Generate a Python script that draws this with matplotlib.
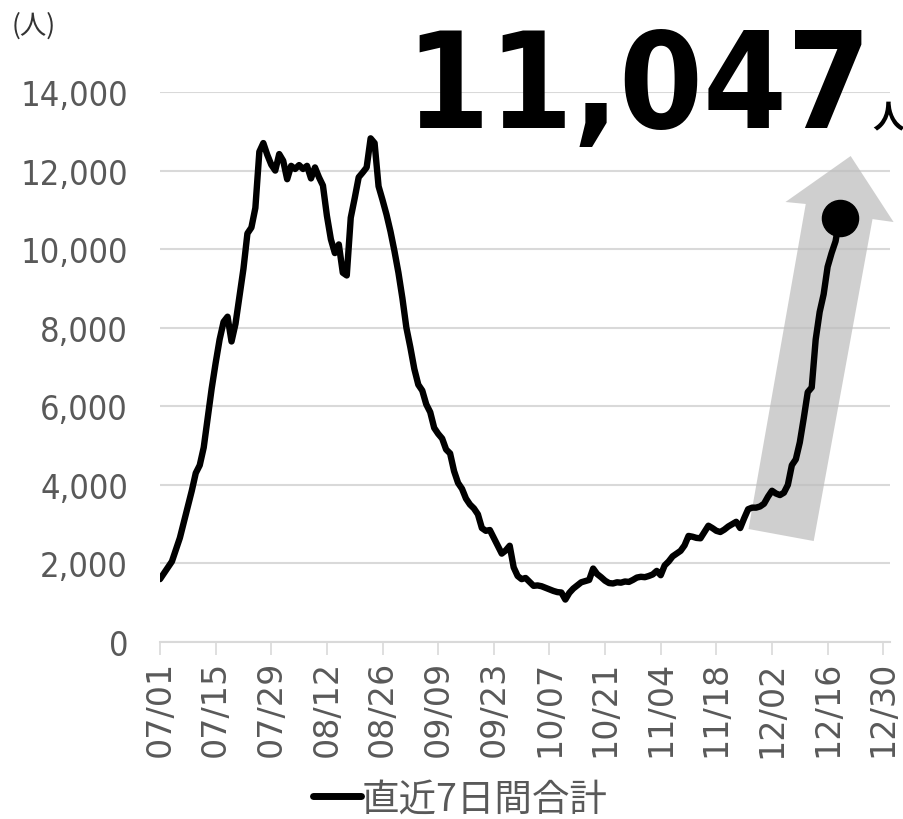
import matplotlib
matplotlib.use("Agg")
import matplotlib.pyplot as plt
from matplotlib import font_manager as fm
from matplotlib.patches import Polygon
from matplotlib.textpath import TextPath

# 直近7日間合計 (daily, from 07/01)
totals = [
    1600, 1750, 1900, 2050, 2350, 2650, 3050, 3450, 3850, 4300,
    4500, 4950, 5700, 6450, 7100, 7700, 8150, 8280, 7650, 8100,
    8800, 9500, 10400, 10550, 11050, 12480, 12700, 12400, 12150, 12000,
    12420, 12250, 11780, 12120, 12040, 12140, 12040, 12120, 11800, 12080,
    11830, 11620, 10850, 10250, 9900, 10120, 9400, 9330, 10800, 11300,
    11830, 11950, 12080, 12820, 12700, 11600, 11250, 10880, 10450, 9950,
    9400, 8750, 8000, 7500, 6950, 6550, 6400, 6050, 5850, 5450,
    5300, 5180, 4900, 4800, 4350, 4050, 3900, 3650, 3500, 3400,
    3250, 2900, 2830, 2850, 2650, 2450, 2250, 2330, 2450, 1900,
    1680, 1600, 1630, 1530, 1430, 1440, 1420, 1380, 1340, 1300,
    1270, 1260, 1080, 1250, 1360, 1440, 1520, 1550, 1580, 1870,
    1730, 1650, 1560, 1500, 1490, 1520, 1510, 1540, 1530, 1580,
    1640, 1660, 1650, 1680, 1720, 1810, 1700, 1950, 2050, 2180,
    2250, 2320, 2460, 2700, 2680, 2650, 2640, 2800, 2960, 2900,
    2830, 2800, 2860, 2940, 3000, 3060, 2900, 3150, 3380, 3420,
    3420, 3450, 3520, 3700, 3850, 3780, 3740, 3800, 4000, 4500,
    4650, 5080, 5700, 6360, 6480, 7700, 8400, 8850, 9550, 9900,
    10200, 10780,
]
days = list(range(len(totals)))
tick_days = [0, 14, 28, 42, 56, 70, 84, 98, 112, 126, 140, 154, 168, 182]
tick_labels = ["07/01", "07/15", "07/29", "08/12", "08/26", "09/09", "09/23",
               "10/07", "10/21", "11/04", "11/18", "12/02", "12/16", "12/30"]
y_ticks = [0, 2000, 4000, 6000, 8000, 10000, 12000, 14000]
headline = "11,047"

STRETCH_RANK = {"ultra-condensed": 0, "extra-condensed": 1, "condensed": 2, "semi-condensed": 3}


def condensed_font(bold):
    # narrowest installed sans face, else plain DejaVu Sans
    found = []
    for f in fm.fontManager.ttflist:
        if f.stretch not in STRETCH_RANK:
            continue
        if "Mono" in f.name or "Serif" in f.name or f.style != "normal":
            continue
        w = f.weight if isinstance(f.weight, int) else fm.weight_dict.get(f.weight, 400)
        found.append((STRETCH_RANK[f.stretch], abs(w - (700 if bold else 400)), f.fname))
    if found:
        found.sort()
        return fm.FontProperties(fname=found[0][2])
    return fm.FontProperties(family="DejaVu Sans", weight="bold" if bold else "normal")


def fit_size(fp, text, width_px, digit_px, renderer, fig):
    # font size that keeps text within width_px and digits about digit_px tall
    probe = fig.text(0, 0, text, fontproperties=fp, fontsize=100)
    s_w = 100 * width_px / probe.get_window_extent(renderer).width
    probe.remove()
    h = TextPath((0, 0), "0", size=100, prop=fp).get_extents().height
    s_h = 100 * digit_px / (h * fig.dpi / 72)
    return min(s_w, s_h)


jp = "Noto Sans CJK JP"
grey = "#595959"
head_fp = condensed_font(True)
tick_fp = condensed_font(False)

fig = plt.figure(figsize=(9.04, 8.2), dpi=100)
ax = fig.add_axes([160/904, 1 - 643/820, 730/904, 550/820])
renderer = fig.canvas.get_renderer()

# grey arrow behind the line
arrow = Polygon([(148.1, 2876), (162.5, 11150), (157.4, 11200), (173.8, 12370),
                 (184.6, 10690), (179.3, 10765), (164.5, 2570)],
                closed=True, facecolor="#bdbdbd", edgecolor="none", alpha=0.72,
                zorder=1, clip_on=False)
ax.add_patch(arrow)

ax.plot(days, totals, color="black", lw=4.6, solid_joinstyle="round",
        solid_capstyle="round", zorder=3, label="直近7日間合計")
ax.plot(days[-1], totals[-1], "o", color="black", ms=26, zorder=4)

ysize = fit_size(tick_fp, "14,000", 108, 29, renderer, fig)

ax.set_xlim(0, 183.7)
ax.set_ylim(0, 14000)
ax.set_yticks(y_ticks)
ax.set_yticklabels([f"{v:,}" for v in y_ticks], color=grey)
for lab in ax.get_yticklabels():
    lab.set_fontproperties(tick_fp)
    lab.set_fontsize(ysize)
ax.set_xticks(tick_days)
ax.set_xticklabels(tick_labels, rotation=90, fontsize=24, color=grey, fontfamily="DejaVu Sans")
ax.tick_params(axis="y", length=0, pad=23)
ax.tick_params(axis="x", length=9, width=1.2, color="#d9d9d9", pad=4)
ax.grid(axis="y", color="#d9d9d9", lw=1.5)
ax.set_axisbelow(True)
for s in ["top", "right", "left"]:
    ax.spines[s].set_visible(False)
ax.spines["bottom"].set_color("#d9d9d9")
ax.spines["bottom"].set_linewidth(1.5)
ax.spines["bottom"].set_zorder(0.5)

fig.text(12/904, 1 - 26/820, "(人)", fontfamily=jp, fontsize=19, color="#333333", va="center")

hsize = fit_size(head_fp, headline, 466, 122, renderer, fig)
fig.text(405/904, 1 - 128/820, headline, fontproperties=head_fp,
         fontsize=hsize, color="black", va="baseline")
fig.text(872/904, 1 - 127/820, "人", fontfamily=jp, fontweight="bold",
         fontsize=23, color="black", va="baseline")

leg = fig.legend(loc="center", bbox_to_anchor=(460/904, 1 - 800/820), frameon=False,
                 prop={"family": jp, "size": 27}, handlelength=1.3, handletextpad=0.0,
                 borderaxespad=0)
for t in leg.get_texts():
    t.set_color(grey)
leg.get_lines()[0].set_linewidth(5)

fig.savefig("out.png", dpi=100)
